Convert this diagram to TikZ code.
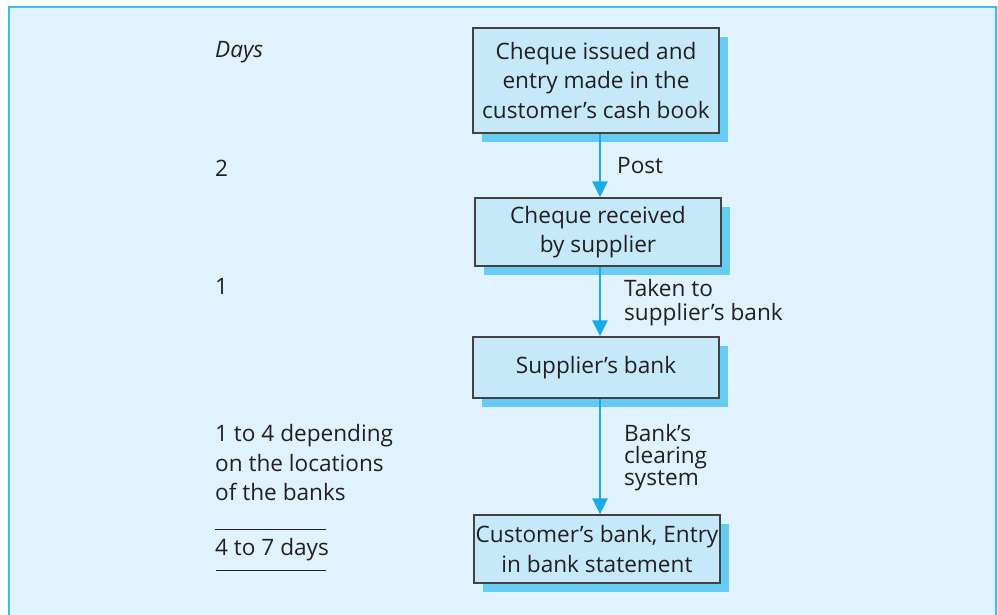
\documentclass[tikz,border=0pt]{standalone}
\usepackage{fontspec}
\setmainfont{Open Sans}
\usetikzlibrary{arrows.meta,shadows}
\definecolor{panel}{HTML}{E0F3FC}
\definecolor{panelline}{HTML}{3DBDEB}
\definecolor{boxfill}{HTML}{C6E9FA}
\definecolor{shadowc}{HTML}{66CCF2}
\definecolor{arrowc}{HTML}{1AABE6}
\definecolor{ink}{HTML}{231F20}
\begin{document}
\begin{tikzpicture}[x=1pt,y=-1pt,
  font=\fontsize{22.6}{29.5}\selectfont, text=ink,
  flowbox/.style={draw=ink!85, line width=1.3pt, fill=boxfill, minimum width=246pt,
    align=center, inner sep=0pt,
    drop shadow={shadow xshift=9pt, shadow yshift=-9pt, fill=shadowc, opacity=1}},
  flow/.style={draw=arrowc, line width=2.4pt, -{Triangle[length=16pt,width=15pt]}},
  lbl/.style={anchor=west, align=left, inner sep=0pt},
  rule/.style={draw=ink, line width=1pt}]
\useasboundingbox (0,0) rectangle (998,615);
\fill[panel] (8,6) rectangle (998,615);
\draw[panelline, line width=2pt] (9,620) -- (9,7) -- (996,7) -- (996,620);

\node[flowbox, minimum height=105pt] (b1) at (596,80.5) {Cheque issued and\\entry made in the\\customer’s cash book};
\node[flowbox, minimum height=68pt] (b2) at (598,232) {Cheque received\\by supplier};
\node[flowbox, minimum height=61pt] (b3) at (596,367.5) {Supplier’s bank};
\node[flowbox, minimum height=68pt] (b4) at (597,549) {Customer’s bank, Entry\\in bank statement};

\draw[flow] ([xshift=4pt]b1.south) -- ([xshift=2pt]b2.north);
\draw[flow] ([xshift=2pt]b2.south) -- ([xshift=4pt]b3.north);
\draw[flow] ([xshift=4pt]b3.south) -- ([xshift=3pt]b4.north);

\node[lbl] (post) at (617,166) {Post};
\node[lbl, font=\fontsize{22.6}{24}\selectfont] (taken) at (624,303) {Taken to\\supplier’s bank};
\node[lbl, font=\fontsize{22.6}{22}\selectfont] (clear) at (624,458) {Bank’s\\clearing\\system};

\node[lbl] (days) at (215,52) {\itshape Days};
\node[lbl] (d2) at (215,168) {2};
\node[lbl] (d1) at (215,286) {1};
\node[lbl] (d3) at (215,463) {1 to 4 depending\\on the locations\\of the banks};
\node[lbl] (tot) at (215,550) {4 to 7 days};
\draw[rule] (215,529) -- (326,529);
\draw[rule] (216,570) -- (326,570);
\end{tikzpicture}
\end{document}
